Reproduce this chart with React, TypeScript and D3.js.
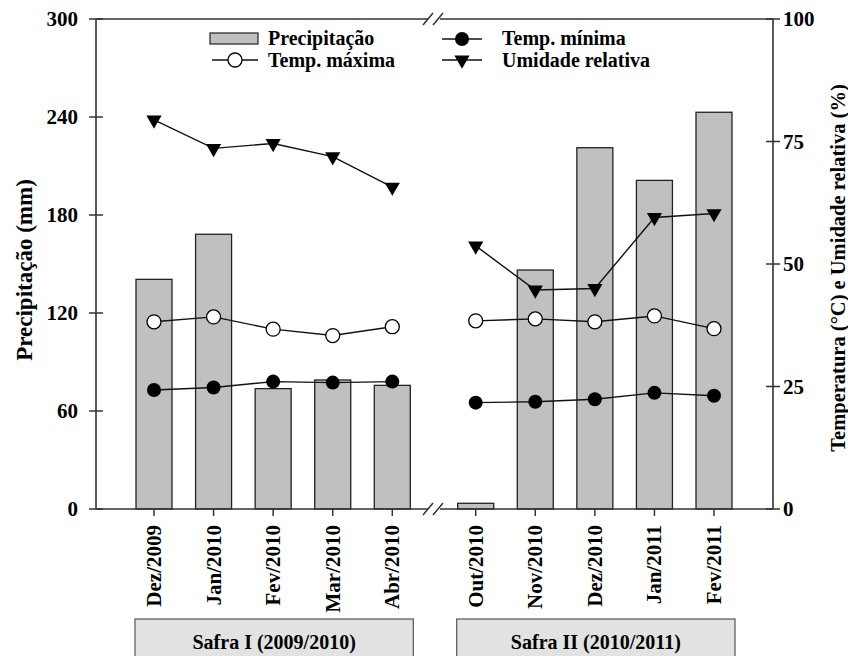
import React from 'react'
import { scaleLinear, line, symbol, symbolTriangle } from 'd3'

const months = ['Dez/2009', 'Jan/2010', 'Fev/2010', 'Mar/2010', 'Abr/2010', 'Out/2010', 'Nov/2010', 'Dez/2010', 'Jan/2011', 'Fev/2011']
const monthSeason = [0, 0, 0, 0, 0, 1, 1, 1, 1, 1]
const seasons = ['Safra I (2009/2010)', 'Safra II (2010/2011)']
const precip = [140.6, 168.2, 73.7, 79, 75.7, 3.5, 146.3, 221.2, 201.2, 242.9]
const tempMax = [38.2, 39.2, 36.7, 35.4, 37.2, 38.4, 38.8, 38.2, 39.4, 36.8]
const tempMin = [24.3, 24.8, 26.0, 25.8, 26.0, 21.7, 21.9, 22.4, 23.7, 23.1]
const umidade = [79.4, 73.6, 74.6, 71.9, 65.7, 53.7, 44.7, 45.0, 59.5, 60.3]
const leftTicks = [0, 60, 120, 180, 240, 300]
const rightTicks = [0, 25, 50, 75, 100]

const FONT = '"Liberation Serif", "Times New Roman", serif'
const AXIS = '#333'

const left = 96, right = 773, top = 19, bottom = 509
const breakGap = 0.4
const barW = 36

// month index -> slot on the x scale, with a gap at the season break
const slot = (i: number) => i + (monthSeason[i] ? breakGap : 0)

const App = () => {
  const x = scaleLinear().domain([0, 9 + breakGap]).range([154, 714])
  const yL = scaleLinear().domain([0, 300]).range([bottom, top])
  const yR = scaleLinear().domain([0, 100]).range([bottom, top])

  const breakX = (x(4) + x(4 + 1 + breakGap)) / 2
  const tri = symbol().type(symbolTriangle).size(100)()

  const seriesLine = (vals: number[], s: number) =>
    line<number>()
      .x(i => x(slot(i)))
      .y(i => yR(vals[i]))(months.map((_, i) => i).filter(i => monthSeason[i] === s))

  const slashes = (y0: number) => (
    <g stroke={AXIS} strokeWidth={1.5}>
      <line x1={breakX - 11} y1={y0 + 6} x2={breakX - 1} y2={y0 - 6} />
      <line x1={breakX - 1} y1={y0 + 6} x2={breakX + 9} y2={y0 - 6} />
    </g>
  )

  const textStyle = { fontFamily: FONT, fontWeight: 'bold' as const }

  return (
    <svg width={848} height={656} style={{ position: 'absolute', left: 0, top: 0 }}>
      <rect width={848} height={656} fill="white" />

      {/* bars */}
      {precip.map((v, i) => (
        <rect key={'b' + i} x={x(slot(i)) - barW / 2} y={yL(v)} width={barW} height={bottom - yL(v)}
          fill="#c0c0c0" stroke="#222" strokeWidth={1.3} />
      ))}

      {/* frame */}
      <g stroke={AXIS} strokeWidth={1.6} fill="none">
        <line x1={left} y1={top} x2={left} y2={bottom} />
        <line x1={right} y1={top} x2={right} y2={bottom} />
        <line x1={left} y1={top} x2={breakX - 6} y2={top} />
        <line x1={breakX + 6} y1={top} x2={right} y2={top} />
        <line x1={left} y1={bottom} x2={breakX - 6} y2={bottom} />
        <line x1={breakX + 6} y1={bottom} x2={right} y2={bottom} />
      </g>
      {slashes(top)}
      {slashes(bottom)}

      {/* left axis */}
      {leftTicks.map(t => (
        <g key={'l' + t}>
          <line x1={left - 7} x2={left + 7} y1={yL(t)} y2={yL(t)} stroke={AXIS} strokeWidth={1.5} />
          <text x={left - 18} y={yL(t)} dy="0.35em" textAnchor="end" fontSize={21} {...textStyle}>{t}</text>
        </g>
      ))}
      {/* right axis */}
      {rightTicks.map(t => (
        <g key={'r' + t}>
          <line x1={right - 7} x2={right + 7} y1={yR(t)} y2={yR(t)} stroke={AXIS} strokeWidth={1.5} />
          <text x={right + 10} y={yR(t)} dy="0.35em" textAnchor="start" fontSize={21} {...textStyle}>{t}</text>
        </g>
      ))}
      {/* bottom axis */}
      {months.map((m, i) => (
        <g key={'m' + i}>
          <line x1={x(slot(i))} x2={x(slot(i))} y1={bottom} y2={bottom + 7} stroke={AXIS} strokeWidth={1.5} />
          <text transform={`translate(${x(slot(i)) + 7},${bottom + 16}) rotate(-90)`} textAnchor="end"
            fontSize={21} {...textStyle}>{m}</text>
        </g>
      ))}

      {/* axis titles */}
      <text transform={`translate(32,${(top + bottom) / 2 + 6}) rotate(-90)`} textAnchor="middle" fontSize={23} {...textStyle}>
        Precipitação (mm)
      </text>
      <text transform={`translate(845,${(top + bottom) / 2 + 4}) rotate(-90)`} textAnchor="middle" fontSize={20.5} {...textStyle}>
        Temperatura (°C) e Umidade relativa (%)
      </text>

      {/* lines */}
      {[0, 1].map(s => (
        <g key={'ln' + s} fill="none" stroke="#111" strokeWidth={1.4}>
          <path d={seriesLine(umidade, s) || ''} />
          <path d={seriesLine(tempMax, s) || ''} />
          <path d={seriesLine(tempMin, s) || ''} />
        </g>
      ))}
      {months.map((_, i) => (
        <g key={'mk' + i}>
          <path d={tri || ''} transform={`translate(${x(slot(i))},${yR(umidade[i])}) rotate(180)`} fill="black" />
          <circle cx={x(slot(i))} cy={yR(tempMax[i])} r={7} fill="white" stroke="black" strokeWidth={1.3} />
          <circle cx={x(slot(i))} cy={yR(tempMin[i])} r={7} fill="black" />
        </g>
      ))}

      {/* season boxes */}
      {seasons.map((s, k) => {
        const idx = months.map((_, i) => i).filter(i => monthSeason[i] === k)
        const x0 = x(slot(idx[0])) - 19
        const x1 = x(slot(idx[idx.length - 1])) + 21
        return (
          <g key={'s' + k}>
            <rect x={x0} y={619} width={x1 - x0} height={45} fill="#e2e2e2" stroke="#555" strokeWidth={1.2} />
            <text x={(x0 + x1) / 2} y={642} dy="0.35em" textAnchor="middle" fontSize={20} {...textStyle}>{s}</text>
          </g>
        )
      })}

      {/* legend */}
      <g {...textStyle} fontSize={20}>
        <rect x={210} y={33} width={48} height={11} fill="#c0c0c0" stroke="#222" strokeWidth={1.2} />
        <text x={268} y={45}>Precipitação</text>
        <line x1={212} x2={258} y1={60} y2={60} stroke="#111" strokeWidth={1.4} />
        <circle cx={235} cy={60} r={7} fill="white" stroke="black" strokeWidth={1.3} />
        <text x={268} y={67}>Temp. máxima</text>
        <line x1={442} x2={482} y1={39} y2={39} stroke="#111" strokeWidth={1.4} />
        <circle cx={462} cy={39} r={7} fill="black" />
        <text x={502} y={45}>Temp. mínima</text>
        <line x1={442} x2={482} y1={60} y2={60} stroke="#111" strokeWidth={1.4} />
        <path d={tri || ''} transform="translate(462,60) rotate(180)" fill="black" />
        <text x={502} y={67}>Umidade relativa</text>
      </g>
    </svg>
  )
}

export default App
